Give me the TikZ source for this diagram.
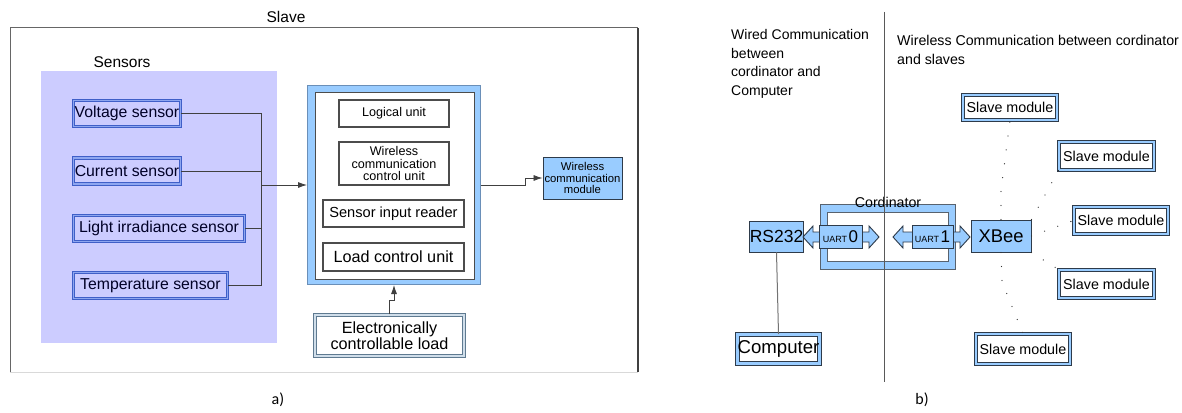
\documentclass[tikz,border=0pt]{standalone}
\usepackage{fontspec}
\setmainfont{Liberation Sans}
\newfontfamily\calib{Carlito}
\usetikzlibrary{arrows.meta}
\newcommand\fz[2]{\fontsize{#1pt}{#2pt}\selectfont}
\definecolor{lb}{HTML}{99CCFF}
\definecolor{lav}{HTML}{CCCCFF}
\definecolor{sbord}{HTML}{3F5FC8}
\definecolor{sband}{HTML}{8EA6F0}
\definecolor{dkb}{HTML}{2E3B4A}
\definecolor{gbord}{HTML}{5F7A90}
\definecolor{gband}{HTML}{D0DEEA}
\definecolor{cbord}{HTML}{6A8FB8}
\newcommand\mydblarrow[3]{%
  \draw[bluebox] (#1,#3) -- ++(10,-11) -- ++(0,6) -- ({#2-10},{#3-5}) -- ++(0,-6) -- (#2,#3)
    -- ++(-10,11) -- ++(0,-6) -- ({#1+10},{#3+5}) -- ++(0,6) -- cycle;}
\tikzset{
  wire/.style={draw=black!75, line width=0.8pt},
  arr/.style={wire, -{Latex[length=9pt,width=6pt]}},
  sensorbox/.style={draw=sbord, line width=0.9pt, double=sband, double distance=1.8pt,
    fill=lav, inner sep=0pt, text=black!85!blue, font=\fz{15.8}{17}},
  plainbox/.style={draw=black!70, line width=1.1pt, fill=white, inner sep=0pt, align=center},
  dblbox/.style={draw=dkb, line width=1pt, double=lb, double distance=2.6pt, fill=white,
    inner sep=0pt, align=center},
  loadbox/.style={draw=gbord, line width=1.1pt, double=gband, double distance=1.8pt, fill=white,
    inner sep=0pt, align=center},
  bluebox/.style={draw=dkb, line width=0.9pt, fill=lb, inner sep=0pt, align=center},
  lbl/.style={inner sep=0pt},
  dots/.style={draw=black!80, line width=1.3pt, line cap=round, dash pattern=on 0pt off 14pt},
}
\begin{document}
\begin{tikzpicture}[x=1pt,y=-1pt]
\useasboundingbox (0,0) rectangle (1182,412);
\fill[white] (0,0) rectangle (1182,412);

% ---------------- panel a ----------------
\draw[black!15, line width=1pt] (10,372) -- (638,372);
\draw[black!60, line width=1pt] (10,372) -- (10,28) -- (638,28);
\draw[black!75, line width=1.8pt] (638,28) -- (638,372);
\node[lbl, font=\fz{15.5}{17}] (slavelbl) at (286,17) {Slave};

\fill[lav] (41,71) rectangle (277,343);
\node[lbl, font=\fz{15.5}{17}] (senslbl) at (122,62) {Sensors};

\node[sensorbox, minimum width=107, minimum height=26] (v) at (127,113.5) {Voltage sensor};
\node[sensorbox, minimum width=107, minimum height=26] (c) at (127,171) {Current sensor};
\node[sensorbox, minimum width=171, minimum height=26] (l) at (159,228.5) {Light irradiance sensor};
\node[sensorbox, minimum width=154, minimum height=26] (t) at (150.5,285.5) {Temperature sensor};

% controller
\node[draw=cbord, line width=1pt, fill=lb, minimum width=173, minimum height=199, inner sep=0pt] (ctrl) at (394,185) {};
\node[draw=black!70, line width=0.9pt, fill=white, minimum width=159, minimum height=187, inner sep=0pt] (ctrlin) at (394.5,185.5) {};
\node[plainbox, minimum width=110, minimum height=27, font=\fz{12.6}{13}] (logic) at (394,113.5) {Logical unit};
\node[plainbox, minimum width=110, minimum height=43, font=\fz{12.6}{12.6}] (wccu) at (394,163.5) {Wireless\\communication\\control unit};
\node[plainbox, minimum width=141, minimum height=27, font=\fz{14.6}{15}] (sir) at (393.5,213.5) {Sensor input reader};
\node[plainbox, minimum width=141, minimum height=28, font=\fz{16.2}{16}] (lcu) at (393.5,257) {Load control unit};

\node[bluebox, minimum width=79, minimum height=42, font=\fz{11.3}{11.6}] (wm) at (582.5,178) {Wireless\\communication\\module};
\node[loadbox, minimum width=149, minimum height=41, font=\fz{16.2}{15.8}] (load) at (389.5,335.5) {Electronically\\controllable load};

% bus
\coordinate (bt) at (261,113.5);
\coordinate (bb) at (261,285.5);
\coordinate (bm) at (261,185);
\draw[wire] (v.east) -- (bt) -- (bb) -- (t.east);
\draw[wire] (c.east) -- (c.east -| bt);
\draw[wire] (l.east) -- (l.east -| bt);
\draw[arr] (bm) -- (bm -| ctrl.west);

\coordinate (j1) at (525,185);
\coordinate (j2) at (525,178);
\draw[arr] (ctrl.east) -- (j1) -- (j2) -- (wm.west);

\coordinate (k1) at (389.5,300);
\coordinate (k2) at (394,300);
\draw[arr] (load.north) -- (k1) -- (k2) -- (ctrl.south);

\node[lbl, font=\calib\fz{16}{17}] (alabel) at (278,400) {a)};

% ---------------- panel b ----------------
\node[lbl, anchor=north west, align=left, font=\fz{14}{18.7}] (wired) at (731,29) {Wired Communication\\between\\cordinator and\\Computer};
\node[lbl, anchor=north west, align=left, font=\fz{14.2}{18.4}] (wless) at (897,35.5) {Wireless Communication between cordinator\\and slaves};

% coordinator
\node[draw=dkb!80, line width=0.9pt, fill=lb, minimum width=135, minimum height=65, inner sep=0pt] (coord) at (887.5,236.5) {};
\node[draw=dkb!80, line width=0.9pt, fill=white, minimum width=121, minimum height=49, inner sep=0pt] (coordin) at (887.5,236.5) {};
\node[lbl, font=\fz{14.2}{15}] (coordlbl) at (888,202) {Cordinator};

\node[bluebox, minimum width=51, minimum height=31, font=\fz{17.5}{17}] (rs) at (776.5,236.5) {RS232};
\node[bluebox, minimum width=60, minimum height=32, font=\fz{18.4}{18}] (xbee) at (1001,236) {XBee};

\mydblarrow{803}{879}{237}
\mydblarrow{893}{970}{237}

\node[bluebox, minimum width=43, minimum height=23] (u0) at (840.5,236.5) {\fz{9}{9}UART\,\fz{17}{16}0};
\node[bluebox, minimum width=41, minimum height=23] (u1) at (932.5,236.5) {\fz{9}{9}UART\,\fz{17}{16}1};

\node[dblbox, minimum width=80, minimum height=29, font=\fz{18.6}{18}] (comp) at (778.5,349) {Computer};
\draw[draw=black!55, line width=1pt] (rs.south) -- (comp.north);

% slaves
\node[dblbox, minimum width=94, minimum height=25, font=\fz{14.3}{15}] (s1) at (1010,107.5) {Slave module};
\node[dblbox, minimum width=95, minimum height=28, font=\fz{14.3}{15}] (s2) at (1106.5,156) {Slave module};
\node[dblbox, minimum width=94, minimum height=27, font=\fz{14.3}{15}] (s3) at (1121,220.5) {Slave module};
\node[dblbox, minimum width=95, minimum height=28, font=\fz{14.3}{15}] (s4) at (1106.5,284) {Slave module};
\node[dblbox, minimum width=94, minimum height=30, font=\fz{14.3}{15}] (s5) at (1023,349) {Slave module};

\coordinate (d1) at (1001,190);
\coordinate (d5) at (1002,282);
\draw[dots] (xbee.north) -- (d1) -- (s1.south);
\draw[dots] (xbee.north east) -- (s2.south west);
\draw[dots] (xbee.east) -- (s3.west);
\draw[dots] (xbee.south east) -- (s4.north west);
\draw[dots] (xbee.south) -- (d5) -- (s5.north);

\coordinate (divt) at (884,12);
\coordinate (divb) at (884,382);
\draw[black!65, line width=1pt] (divt) -- (divb);

\node[lbl, font=\calib\fz{16}{17}] (blabel) at (922,400) {b)};
\end{tikzpicture}
\end{document}
